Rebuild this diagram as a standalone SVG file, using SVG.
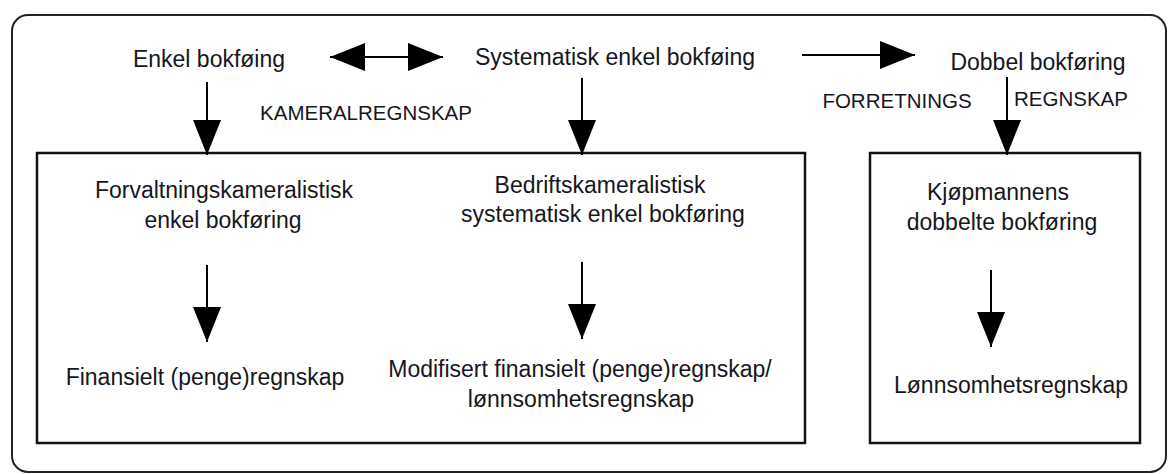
<svg xmlns="http://www.w3.org/2000/svg" width="1175" height="474" viewBox="0 0 1175 474">
<style>
text{font-family:"Liberation Sans",Arial,sans-serif;font-size:23px;fill:#161620;text-anchor:middle}
text.caps{font-size:20.5px}
.box{fill:none;stroke:#111;stroke-width:2.5}
.outer{fill:none;stroke:#222;stroke-width:2}
.conn line{stroke:#000;stroke-width:2;marker-end:url(#ah)}
</style>
<defs>
<marker id="ah" markerUnits="userSpaceOnUse" markerWidth="36" markerHeight="28" refX="35" refY="14" orient="auto-start-reverse" viewBox="0 0 36 28">
<path d="M0,0 L35,14 L0,28 z" fill="#000"/>
</marker>
</defs>
<rect class="outer" x="12" y="15" width="1154" height="457" rx="16"/>
<g id="box-kameral"><rect class="box" x="37" y="153" width="768" height="290"/></g>
<g id="box-forretning"><rect class="box" x="870" y="153" width="270" height="290"/></g>
<g id="n-enkel"><text x="209" y="67">Enkel bokføing</text></g>
<g id="n-systematisk"><text x="615" y="65">Systematisk enkel bokføing</text></g>
<g id="n-dobbel"><text x="1038" y="70">Dobbel bokføring</text></g>
<g id="l-kameral"><text class="caps" x="366" y="120">KAMERALREGNSKAP</text></g>
<g id="l-forretnings"><text class="caps" x="897" y="108">FORRETNINGS</text><text class="caps" x="1071" y="106">REGNSKAP</text></g>
<g id="n-forvaltning"><text x="224" y="198">Forvaltningskameralistisk</text><text x="223" y="228">enkel bokføring</text></g>
<g id="n-bedrift"><text x="600" y="193">Bedriftskameralistisk</text><text x="603" y="222">systematisk enkel bokføring</text></g>
<g id="n-kjopmann"><text x="998" y="200">Kjøpmannens</text><text x="1002" y="230">dobbelte bokføring</text></g>
<g id="n-finansielt"><text x="205" y="385">Finansielt (penge)regnskap</text></g>
<g id="n-modifisert"><text x="580" y="377">Modifisert finansielt (penge)regnskap/</text><text x="581" y="407">lønnsomhetsregnskap</text></g>
<g id="n-lonnsomhet"><text x="1011" y="393">Lønnsomhetsregnskap</text></g>
<g class="conn" id="connectors">
<line x1="330" y1="57" x2="443" y2="57" marker-start="url(#ah)"/>
<line x1="802" y1="55" x2="915" y2="55"/>
<line x1="207" y1="82" x2="207" y2="155"/>
<line x1="582" y1="78" x2="582" y2="155"/>
<line x1="1007" y1="77" x2="1007" y2="155"/>
<line x1="207" y1="265" x2="207" y2="342"/>
<line x1="582" y1="262" x2="582" y2="339"/>
<line x1="991" y1="270" x2="991" y2="347"/>
</g>
</svg>
